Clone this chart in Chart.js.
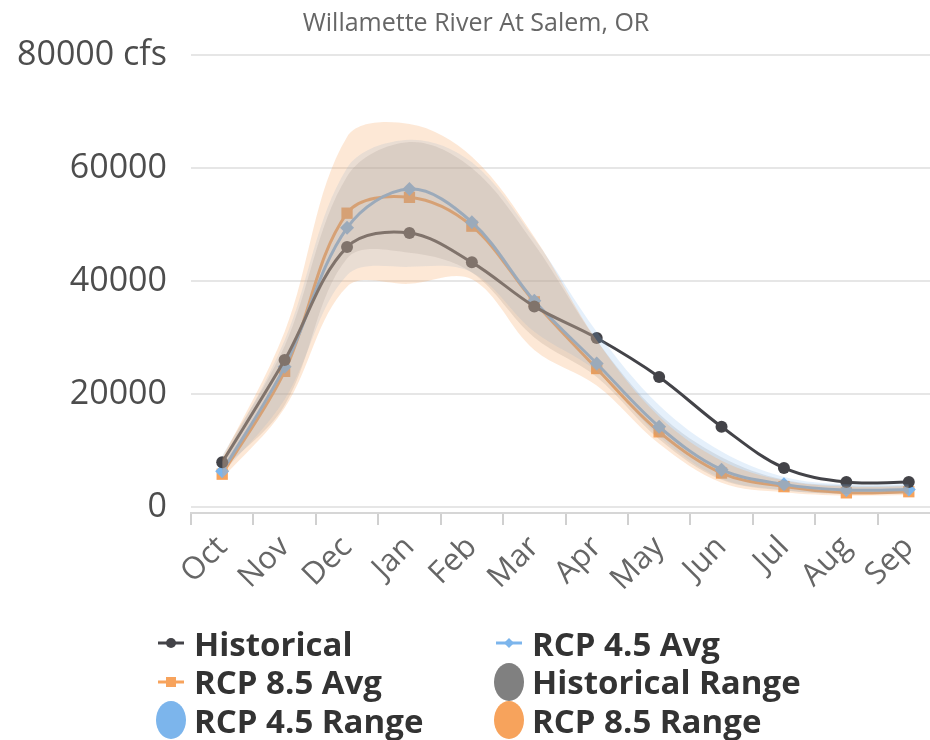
<!DOCTYPE html>
<html>
<head>
<meta charset="utf-8">
<script src="https://cdn.jsdelivr.net/npm/chart.js@4.4.0/dist/chart.umd.min.js"></script>
<style>
  html, body { margin: 0; padding: 0; background: #fff; overflow: hidden; width: 930px; height: 740px; }
  #wrap { position: relative; width: 930px; height: 740px; font-family: "Open Sans", sans-serif; }
  #grafica { position: absolute; left: 0; top: 0; }
  #subtitulo { position: absolute; top: 4px; left: 0; width: 952px; text-align: center; font-size: 25px; color: #666; }
  #leyenda { position: absolute; left: 152px; top: 624px; display: grid; grid-template-columns: 338px 400px; row-gap: 0; }
  .item { display: flex; align-items: center; height: 38.5px; font-weight: bold; font-size: 33px; color: #333; white-space: nowrap; }
  .simbolo { width: 38px; display: flex; justify-content: center; align-items: center; margin-right: 4px; }
  .ovalo { width: 30px; height: 38px; border-radius: 50%; }
</style>
</head>
<body>
<div id="wrap">
  <canvas id="grafica" width="952" height="625"></canvas>
  <div id="subtitulo">Willamette River At Salem, OR</div>
  <div id="leyenda"></div>
</div>
<script>
// datos (cfs)
var meses = ['Oct','Nov','Dec','Jan','Feb','Mar','Apr','May','Jun','Jul','Aug','Sep'];
var historico   = [7900, 26000, 46000, 48500, 43300, 35500, 29900, 23000, 14200, 6900, 4400, 4400];
var rcp45Prom   = [6300, 24800, 49400, 56300, 50400, 36500, 25400, 14200, 6600, 4000, 3000, 3100];
var rcp85Prom   = [5800, 24000, 52000, 54800, 49700, 36300, 24500, 13300, 6000, 3600, 2500, 2700];
var histMin     = [6500, 18000, 44000, 45000, 41500, 30000, 23000, 12000, 4800, 2900, 2300, 2400];
var histMax     = [9000, 28500, 58500, 64600, 60000, 46500, 29500, 16500, 8800, 4800, 3800, 3800];
var rcp45Min    = [5800, 19000, 41000, 42500, 41500, 31000, 24000, 12500, 5000, 3000, 2300, 2400];
var rcp45Max    = [8000, 29500, 60000, 65000, 61000, 47500, 31000, 18000, 9800, 5300, 4000, 4000];
var rcp85Min    = [5000, 17500, 39000, 39500, 40300, 27800, 21500, 11200, 4300, 2600, 2000, 2100];
var rcp85Max    = [8500, 31000, 65500, 67800, 62000, 47800, 29500, 16000, 8200, 4700, 3600, 3600];
var marcasY     = [0, 20000, 40000, 60000, 80000];

var colorHist = '#434348', colorAzul = '#7cb5ec', colorNaranja = '#f7a35c', colorGris = '#808080';

function serieLinea(nombre, datos, color, forma, radio){
    return {
        label: nombre, data: datos, borderColor: color, backgroundColor: color,
        borderWidth: 3, pointStyle: forma, pointRadius: radio, pointBorderWidth: 0,
        tension: 0.35, fill: false, order: 10
    };
}
function serieBorde(nombre, datos, orden){
    return { label: nombre, data: datos, borderWidth: 0, pointRadius: 0, tension: 0.35, fill: false, order: orden };
}
function serieRango(nombre, datos, relleno, orden){
    return { label: nombre, data: datos, borderWidth: 0, pointRadius: 0, tension: 0.35,
             fill: '-1', backgroundColor: relleno, order: orden };
}

// los rangos van encima de las lineas (orden menor = se dibuja despues)
var canvas = document.getElementById('grafica').getContext('2d');
var grafica = new Chart(canvas, {
    type: 'line',
    data: {
        labels: meses,
        datasets: [
            serieLinea('Historical', historico, colorHist, 'circle', 6),
            serieLinea('RCP 4.5 Avg', rcp45Prom, colorAzul, 'rectRot', 7),
            serieLinea('RCP 8.5 Avg', rcp85Prom, colorNaranja, 'rect', 8),
            serieBorde('hist-min', histMin, 3),
            serieRango('Historical Range', histMax, 'rgba(128,128,128,0.20)', 3),
            serieBorde('rcp45-min', rcp45Min, 2),
            serieRango('RCP 4.5 Range', rcp45Max, 'rgba(124,181,236,0.20)', 2),
            serieBorde('rcp85-min', rcp85Min, 1),
            serieRango('RCP 8.5 Range', rcp85Max, 'rgba(247,163,92,0.25)', 1)
        ]
    },
    options: {
        responsive: false,
        animation: false,
        layout: { padding: { top: 55, right: 12, left: 0, bottom: 0 } },
        plugins: { legend: { display: false }, tooltip: { enabled: false } },
        scales: {
            x: {
                offset: true,
                grid: { offset: true, drawOnChartArea: false, drawTicks: true, tickLength: 12, color: '#d0d0d0', lineWidth: 2 },
                border: { display: true, color: '#d6d6d6', width: 2 },
                ticks: { minRotation: 45, maxRotation: 45, padding: 4, color: '#666', font: { family: 'Open Sans', size: 31 } },
                afterFit: function(escala){ escala.height = 112; }
            },
            y: {
                min: -1070, max: 80000,
                grid: { color: '#e6e6e6', lineWidth: 2, drawTicks: false },
                border: { display: false },
                afterBuildTicks: function(escala){
                    escala.ticks = marcasY.map(function(v){ return { value: v }; });
                },
                ticks: {
                    padding: 24, color: '#4d4d4d', font: { family: 'Open Sans', size: 34 },
                    callback: function(v){ return v === 80000 ? v + ' cfs' : String(v); }
                },
                afterFit: function(escala){ escala.width = 191; }
            }
        }
    }
});

// leyenda en html, dos columnas
var itemsLeyenda = [
    { texto: 'Historical', tipo: 'linea', color: colorHist, forma: 'circulo' },
    { texto: 'RCP 4.5 Avg', tipo: 'linea', color: colorAzul, forma: 'rombo' },
    { texto: 'RCP 8.5 Avg', tipo: 'linea', color: colorNaranja, forma: 'cuadro' },
    { texto: 'Historical Range', tipo: 'ovalo', color: colorGris },
    { texto: 'RCP 4.5 Range', tipo: 'ovalo', color: colorAzul },
    { texto: 'RCP 8.5 Range', tipo: 'ovalo', color: colorNaranja }
];
var leyenda = document.getElementById('leyenda');
itemsLeyenda.forEach(function(it){
    var div = document.createElement('div');
    div.className = 'item';
    var sim = '';
    if(it.tipo === 'linea'){
        var marca = '';
        if(it.forma === 'circulo') marca = '<circle cx="15" cy="10" r="5" fill="'+it.color+'"/>';
        if(it.forma === 'rombo') marca = '<path d="M15 5 L20 10 L15 15 L10 10 Z" fill="'+it.color+'"/>';
        if(it.forma === 'cuadro') marca = '<rect x="10" y="5" width="10" height="10" fill="'+it.color+'"/>';
        sim = '<svg width="30" height="20"><line x1="2" y1="10" x2="28" y2="10" stroke="'+it.color+'" stroke-width="3"/>'+marca+'</svg>';
    }else{
        sim = '<div class="ovalo" style="background:'+it.color+'"></div>';
    }
    div.innerHTML = '<span class="simbolo">'+sim+'</span><span>'+it.texto+'</span>';
    leyenda.appendChild(div);
});
</script>
</body>
</html>
